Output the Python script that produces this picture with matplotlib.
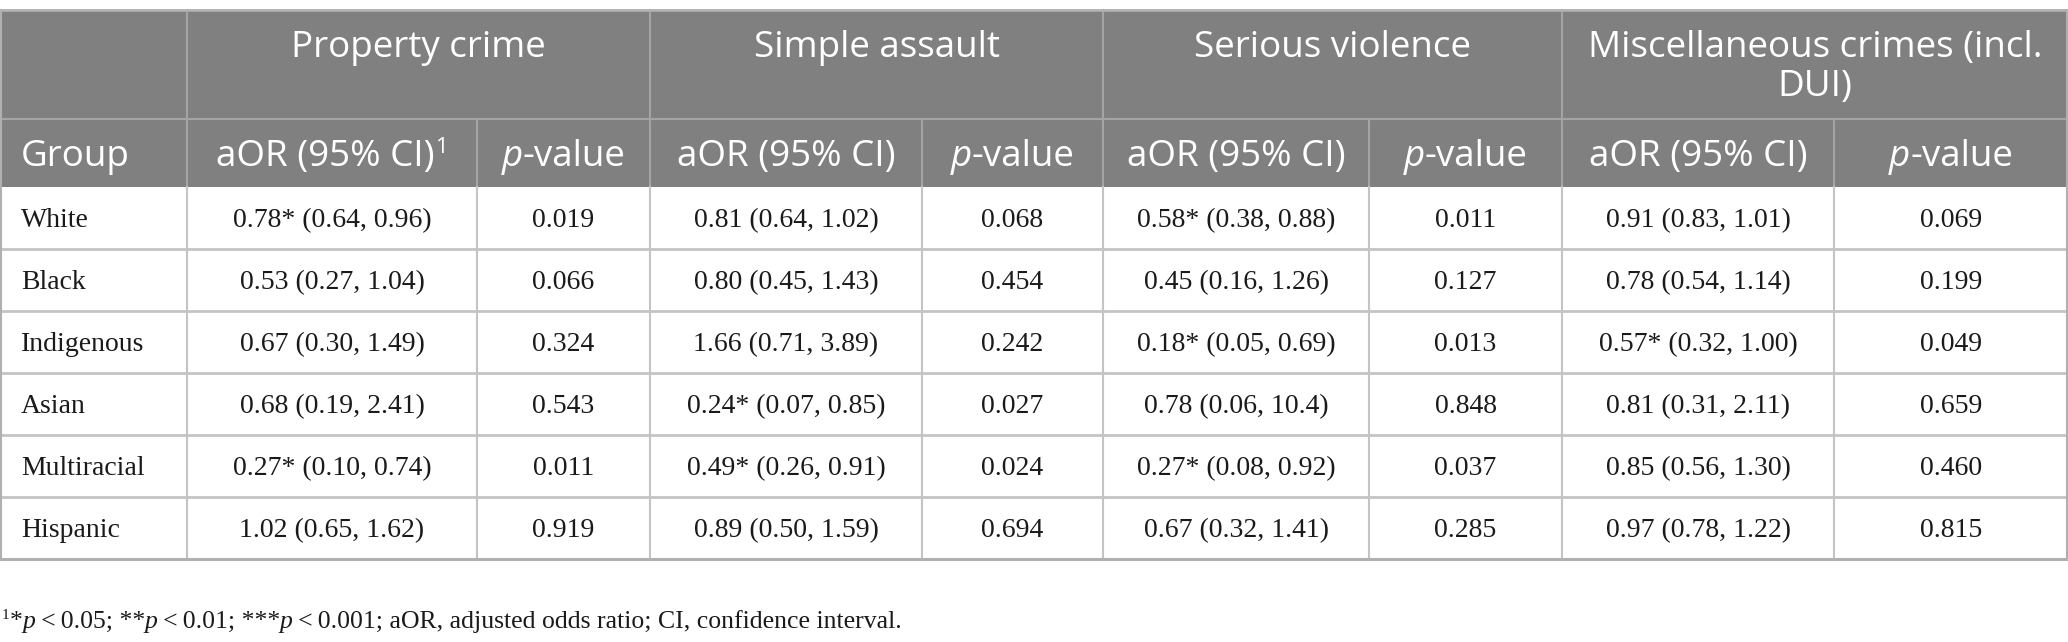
import matplotlib
matplotlib.use("Agg")
import matplotlib.pyplot as plt
from matplotlib.patches import Rectangle

# ---------------- data ----------------
groups = ["White", "Black", "Indigenous", "Asian", "Multiracial", "Hispanic"]
crime_types = ["Property crime", "Simple assault", "Serious violence",
               "Miscellaneous crimes (incl.\nDUI)"]
property_aor = ["0.78* (0.64, 0.96)", "0.53 (0.27, 1.04)", "0.67 (0.30, 1.49)",
                "0.68 (0.19, 2.41)", "0.27* (0.10, 0.74)", "1.02 (0.65, 1.62)"]
property_p = ["0.019", "0.066", "0.324", "0.543", "0.011", "0.919"]
assault_aor = ["0.81 (0.64, 1.02)", "0.80 (0.45, 1.43)", "1.66 (0.71, 3.89)",
               "0.24* (0.07, 0.85)", "0.49* (0.26, 0.91)", "0.89 (0.50, 1.59)"]
assault_p = ["0.068", "0.454", "0.242", "0.027", "0.024", "0.694"]
violence_aor = ["0.58* (0.38, 0.88)", "0.45 (0.16, 1.26)", "0.18* (0.05, 0.69)",
                "0.78 (0.06, 10.4)", "0.27* (0.08, 0.92)", "0.67 (0.32, 1.41)"]
violence_p = ["0.011", "0.127", "0.013", "0.848", "0.037", "0.285"]
misc_aor = ["0.91 (0.83, 1.01)", "0.78 (0.54, 1.14)", "0.57* (0.32, 1.00)",
            "0.81 (0.31, 2.11)", "0.85 (0.56, 1.30)", "0.97 (0.78, 1.22)"]
misc_p = ["0.069", "0.199", "0.049", "0.659", "0.460", "0.815"]

columns = [property_aor, property_p, assault_aor, assault_p,
           violence_aor, violence_p, misc_aor, misc_p]

# ---------------- layout ----------------
W, H = 2068, 642
DPI = 100
fig = plt.figure(figsize=(W / DPI, H / DPI), dpi=DPI)
ax = fig.add_axes([0, 0, 1, 1])
ax.set_xlim(0, W)
ax.set_ylim(H, 0)
ax.axis("off")

col_x = [0, 187, 477, 650, 922, 1103, 1369, 1562, 1834, 2068]
y_top = 10
y_h1 = 119
y_h2 = 187
row_h = 62
y_bot = y_h2 + row_h * len(groups)

HDR_BG = "#808080"
HDR_LINE = "#a4a4a4"
GRID = "#c4c4c4"
HDR_FONT = "Open Sans"
BODY_FONT = "Liberation Serif"
HDR_SIZE = 26.5
BODY_SIZE = 20
FN_SIZE = 18.5

ax.add_patch(Rectangle((0, y_top), W, y_h2 - y_top, facecolor=HDR_BG,
                       edgecolor="none", zorder=1))

# header lines
ax.plot([0, W], [y_h1, y_h1], color=HDR_LINE, lw=1.5, zorder=2)
for i, x in enumerate(col_x[1:-1], start=1):
    if i % 2 == 1:  # group boundaries span both header rows
        ax.plot([x, x], [y_top, y_h2], color=HDR_LINE, lw=1.5, zorder=2)
    else:
        ax.plot([x, x], [y_h1, y_h2], color=HDR_LINE, lw=1.5, zorder=2)

# body lines
for r in range(1, len(groups)):
    y = y_h2 + r * row_h
    ax.plot([0, W], [y, y], color=GRID, lw=2, zorder=2)
for x in col_x[1:-1]:
    ax.plot([x, x], [y_h2, y_bot], color=GRID, lw=1.5, zorder=2)
# outer border
ax.plot([0, W], [y_top, y_top], color="#b0b0b0", lw=2, zorder=3)
ax.plot([0, W], [y_bot, y_bot], color="#b0b0b0", lw=2.2, zorder=3)
ax.plot([0.8, 0.8], [y_top, y_bot], color="#b0b0b0", lw=1.5, zorder=3)
ax.plot([W - 0.8, W - 0.8], [y_top, y_bot], color="#b0b0b0", lw=1.5, zorder=3)

fig.canvas.draw()
renderer = fig.canvas.get_renderer()


def text_width(s, **kw):
    t = ax.text(0, 0, s, **kw)
    bb = t.get_window_extent(renderer=renderer)
    t.remove()
    return bb.width


def draw_runs(x, y, runs, align="center"):
    """runs: list of (string, kwargs, dy) placed left to right on a baseline."""
    widths = [text_width(s, **kw) for s, kw, dy in runs]
    total = sum(widths)
    cx = x - total / 2 if align == "center" else x
    for (s, kw, dy), w in zip(runs, widths):
        ax.text(cx, y + dy, s, ha="left", va="baseline", zorder=5, **kw)
        cx += w


hdr = dict(family=HDR_FONT, color="white", fontsize=HDR_SIZE)
hdr_it = dict(family=HDR_FONT, color="white", fontsize=HDR_SIZE, style="italic")
hdr_sup = dict(family=HDR_FONT, color="white", fontsize=HDR_SIZE * 0.6)

# header row 1: crime types
for k, name in enumerate(crime_types):
    x0, x1 = col_x[1 + 2 * k], col_x[3 + 2 * k]
    for li, line in enumerate(name.split("\n")):
        ax.text((x0 + x1) / 2, 57 + li * 39, line, ha="center", va="baseline",
                zorder=5, **hdr)

# header row 2
base2 = 166
ax.text(21, base2, "Group", ha="left", va="baseline", zorder=5, **hdr)
for k in range(4):
    xa = (col_x[1 + 2 * k] + col_x[2 + 2 * k]) / 2
    xp = (col_x[2 + 2 * k] + col_x[3 + 2 * k]) / 2
    if k == 0:
        draw_runs(xa, base2, [("aOR (95% CI)", hdr, 0), ("1", hdr_sup, -13)])
    else:
        draw_runs(xa, base2, [("aOR (95% CI)", hdr, 0)])
    draw_runs(xp, base2, [("p", hdr_it, 0), ("-value", hdr, 0)])

# body
body = dict(family=BODY_FONT, color="#1a1a1a", fontsize=BODY_SIZE)
for r, g in enumerate(groups):
    yb = y_h2 + r * row_h + row_h / 2 + 9
    ax.text(21, yb, g, ha="left", va="baseline", zorder=5, **body)
    for c, col in enumerate(columns):
        xc = (col_x[1 + c] + col_x[2 + c]) / 2
        ax.text(xc, yb, col[r], ha="center", va="baseline", zorder=5, **body)

# footnote
fn = dict(family=BODY_FONT, color="#1a1a1a", fontsize=FN_SIZE)
fn_it = dict(family=BODY_FONT, color="#1a1a1a", fontsize=FN_SIZE, style="italic")
fn_sup = dict(family=BODY_FONT, color="#1a1a1a", fontsize=FN_SIZE * 0.6)
draw_runs(2, 628, [
    ("1", fn_sup, -9), ("*", fn, 0), ("p", fn_it, 0), ("\u2009<\u20090.05; **", fn, 0),
    ("p", fn_it, 0), ("\u2009<\u20090.01; ***", fn, 0), ("p", fn_it, 0),
    ("\u2009<\u20090.001; aOR, adjusted odds ratio; CI, confidence interval.", fn, 0),
], align="left")

fig.savefig("out.png", dpi=DPI, facecolor="white")
